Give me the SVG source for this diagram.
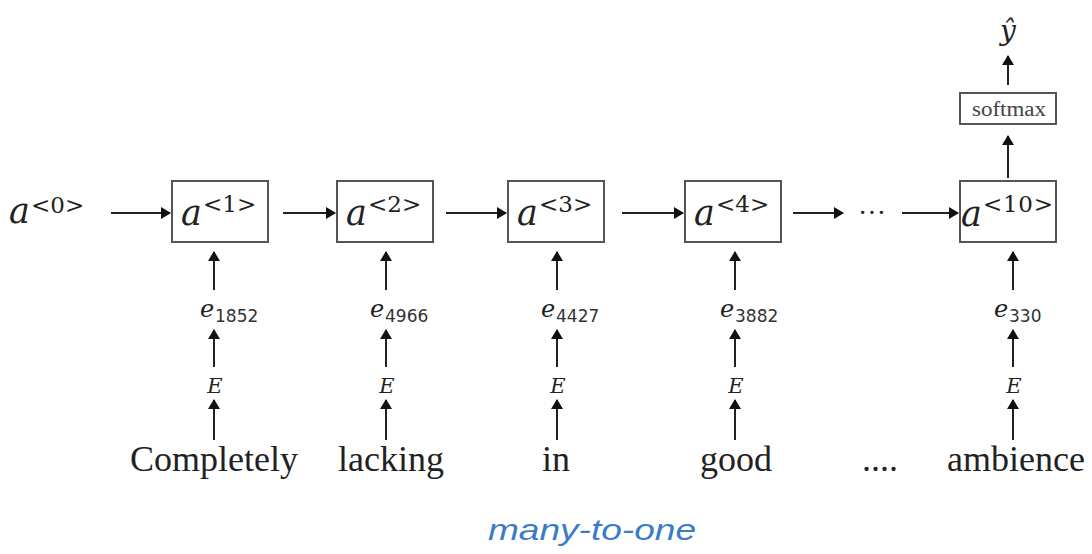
<svg xmlns="http://www.w3.org/2000/svg" width="1092" height="554" viewBox="0 0 1092 554">
<defs>
<marker id="ah" viewBox="0 0 10 12" refX="9" refY="6" markerWidth="10" markerHeight="12" markerUnits="userSpaceOnUse" orient="auto">
<path d="M0,0 L10,6 L0,12 z" fill="#111"/>
</marker>
<style>
.box{fill:#fff;stroke:#555;stroke-width:2}
.ar{stroke:#222;stroke-width:2;fill:none;marker-end:url(#ah)}
.m{font-family:"DejaVu Serif","Liberation Serif",serif;font-style:italic;fill:#222}
.sup{font-family:"DejaVu Serif","Liberation Serif",serif;font-size:23px;fill:#222}
.sub{font-family:"DejaVu Sans","Liberation Sans",sans-serif;font-size:17px;fill:#333}
.w{font-family:"Liberation Serif",serif;font-size:36px;fill:#222;text-anchor:middle}
.hand{font-family:"Liberation Sans",sans-serif;font-style:italic;font-size:30px;fill:#3a7cc8}
</style>
</defs>
<rect width="1092" height="554" fill="#fff"/>
<g id="a0"><text x="9" y="223" class="m" font-size="35">a</text><text x="31" y="213" class="sup">&lt;0&gt;</text></g>
<g id="a1"><rect class="box" x="172" y="181" width="96" height="61"/><text x="181" y="225" class="m" font-size="35">a</text><text x="203" y="212" class="sup">&lt;1&gt;</text></g>
<g id="a2"><rect class="box" x="337" y="181" width="96" height="61"/><text x="346" y="225" class="m" font-size="35">a</text><text x="368" y="212" class="sup">&lt;2&gt;</text></g>
<g id="a3"><rect class="box" x="508" y="181" width="96" height="61"/><text x="517" y="225" class="m" font-size="35">a</text><text x="539" y="212" class="sup">&lt;3&gt;</text></g>
<g id="a4"><rect class="box" x="685" y="181" width="96" height="61"/><text x="694" y="225" class="m" font-size="35">a</text><text x="716" y="212" class="sup">&lt;4&gt;</text></g>
<g id="a10"><rect class="box" x="960" y="181" width="96" height="61"/><text x="961" y="226" class="m" font-size="35">a</text><text x="983" y="212" class="sup" textLength="70">&lt;10&gt;</text></g>
<g id="softmax"><rect class="box" x="960" y="93" width="96" height="31"/><text x="972" y="116" font-family="Liberation Serif,serif" font-size="20" fill="#444" textLength="74" lengthAdjust="spacingAndGlyphs">softmax</text></g>
<g id="yhat"><text x="1008" y="40" class="m" font-size="28" text-anchor="middle">ŷ</text></g>
<g id="dots"><text x="872" y="222" font-family="Liberation Serif,serif" font-size="28" fill="#222" text-anchor="middle">···</text></g>
<g id="e1"><text x="200" y="317" class="m" font-size="24">e</text><text x="215" y="322" class="sub">1852</text></g>
<g id="e2"><text x="370" y="317" class="m" font-size="24">e</text><text x="385" y="322" class="sub">4966</text></g>
<g id="e3"><text x="541" y="317" class="m" font-size="24">e</text><text x="556" y="322" class="sub">4427</text></g>
<g id="e4"><text x="720" y="317" class="m" font-size="24">e</text><text x="735" y="322" class="sub">3882</text></g>
<g id="e10"><text x="994" y="317" class="m" font-size="24">e</text><text x="1009" y="322" class="sub">330</text></g>
<g id="E1"><text x="215" y="393" class="m" font-size="21" text-anchor="middle">E</text></g>
<g id="E2"><text x="387" y="393" class="m" font-size="21" text-anchor="middle">E</text></g>
<g id="E3"><text x="558" y="393" class="m" font-size="21" text-anchor="middle">E</text></g>
<g id="E4"><text x="736" y="393" class="m" font-size="21" text-anchor="middle">E</text></g>
<g id="E10"><text x="1014" y="393" class="m" font-size="21" text-anchor="middle">E</text></g>
<g id="w1"><text x="214" y="471" class="w">Completely</text></g>
<g id="w2"><text x="391" y="471" class="w">lacking</text></g>
<g id="w3"><text x="556" y="471" class="w">in</text></g>
<g id="w4"><text x="736" y="471" class="w">good</text></g>
<g id="w5"><text x="880" y="471" class="w">....</text></g>
<g id="w10"><text x="1016" y="471" class="w">ambience</text></g>
<g id="label"><text x="488" y="540" class="hand" textLength="208" lengthAdjust="spacingAndGlyphs">many-to-one</text></g>
<g id="connectors">
<line class="ar" x1="111" y1="213" x2="170" y2="213"/>
<line class="ar" x1="283" y1="213" x2="335" y2="213"/>
<line class="ar" x1="446" y1="213" x2="506" y2="213"/>
<line class="ar" x1="622" y1="213" x2="683" y2="213"/>
<line class="ar" x1="793" y1="213" x2="843" y2="213"/>
<line class="ar" x1="902" y1="213" x2="958" y2="213"/>
<line class="ar" x1="1008" y1="178" x2="1008" y2="136"/>
<line class="ar" x1="1008" y1="85" x2="1008" y2="56"/>
<line class="ar" x1="214" y1="290" x2="214" y2="252"/>
<line class="ar" x1="214" y1="367" x2="214" y2="330"/>
<line class="ar" x1="214" y1="440" x2="214" y2="400"/>
<line class="ar" x1="386" y1="290" x2="386" y2="252"/>
<line class="ar" x1="386" y1="367" x2="386" y2="330"/>
<line class="ar" x1="386" y1="440" x2="386" y2="400"/>
<line class="ar" x1="557" y1="290" x2="557" y2="252"/>
<line class="ar" x1="557" y1="367" x2="557" y2="330"/>
<line class="ar" x1="557" y1="440" x2="557" y2="400"/>
<line class="ar" x1="735" y1="290" x2="735" y2="252"/>
<line class="ar" x1="735" y1="367" x2="735" y2="330"/>
<line class="ar" x1="735" y1="440" x2="735" y2="400"/>
<line class="ar" x1="1013" y1="290" x2="1013" y2="252"/>
<line class="ar" x1="1013" y1="367" x2="1013" y2="330"/>
<line class="ar" x1="1013" y1="440" x2="1013" y2="400"/>
</g>
</svg>
